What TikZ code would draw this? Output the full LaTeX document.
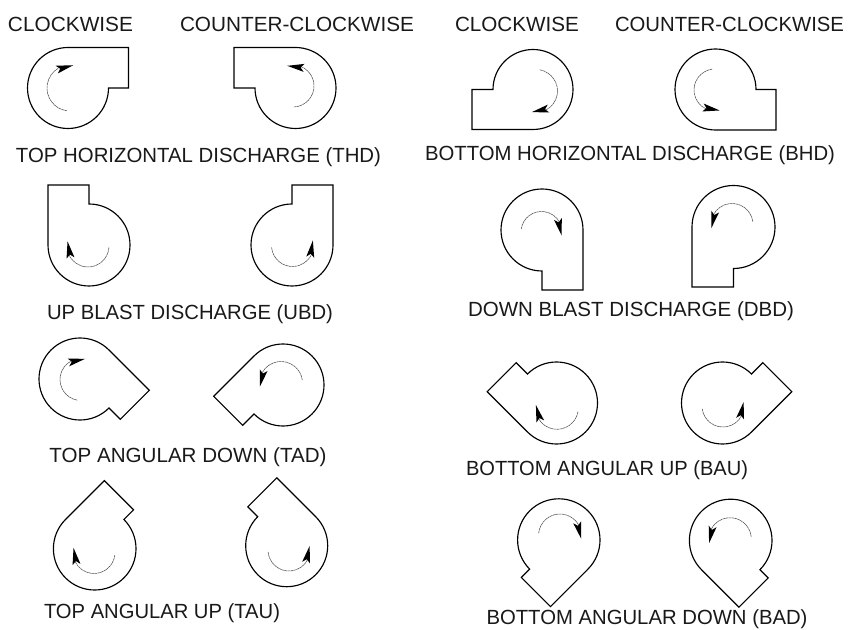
\documentclass[tikz,border=0pt]{standalone}
\usepackage{fontspec}
\setmainfont{Liberation Sans}
\tikzset{
  housing/.style={draw=black,line width=1.15pt,line join=miter},
  spin/.style={draw=black!70,line width=0.55pt,dash pattern=on 2.5pt off 0.5pt},
  spinhead/.style={fill=black,draw=none},
  caption/.style={font=\fontsize{20.5}{20.5}\selectfont,inner sep=0pt,anchor=base,text=black!90}
}
\newsavebox{\lblbox}
% centre x, centre y, radius, rotation, x-scale, outlet length
\newcommand{\fanbody}[6]{%
  \begin{scope}[shift={(#1,629-#2)},xscale=#5,rotate=#4]
    \draw[housing] (0,#3) -- (#6,#3) -- (#6,0) -- (#3,0)
      arc[start angle=0,end angle=-270,radius=#3] -- cycle;
  \end{scope}}
% centre x, centre y, radius, start angle, angle of the arrow tip
\newcommand{\fanspin}[5]{%
  \pgfmathsetmacro{\arcend}{#5+ifthenelse(#5>#4,-38,38)}%
  \pgfmathsetmacro{\headdir}{#5+ifthenelse(#5>#4,67,-67)}%
  \draw[spin] ([shift={(#4:#3)}]#1,629-#2) arc[start angle=#4,end angle=\arcend,radius=#3];
  \fill[spinhead,shift={(#1,629-#2)},shift={(#5:#3)},rotate=\headdir]
    (0,0) -- (-17,4) -- (-13.5,0) -- (-17,-4) -- cycle;}
% name, centre x, baseline y, ink width, text
\newcommand{\lbl}[5]{%
  \node[caption] (#1) at (#2,629-#3) {\savebox{\lblbox}{#5}%
    \pgfmathsetmacro{\sxfac}{#4/\the\wd\lblbox}%
    \scalebox{\sxfac}[1]{\usebox{\lblbox}}};}
\begin{document}
\begin{tikzpicture}[x=1pt,y=1pt]
\useasboundingbox (0,0) rectangle (850,629);
% column heads
\lbl{h1}{70.5}{31.5}{125}{CLOCKWISE}
\lbl{h2}{297}{31.5}{234}{COUNTER-CLOCKWISE}
\lbl{h3}{517}{31.5}{124}{CLOCKWISE}
\lbl{h4}{729.5}{31.5}{229}{COUNTER-CLOCKWISE}
% captions
\lbl{thd}{198.5}{163}{365}{TOP HORIZONTAL DISCHARGE (THD)}
\lbl{bhd}{630}{160.5}{410}{BOTTOM HORIZONTAL DISCHARGE (BHD)}
\lbl{ubd}{190}{320}{286}{UP BLAST DISCHARGE (UBD)}
\lbl{dbd}{631}{316.5}{326}{DOWN BLAST DISCHARGE (DBD)}
\lbl{tad}{188}{462}{277}{TOP ANGULAR DOWN (TAD)}
\lbl{bau}{607}{475.5}{282}{BOTTOM ANGULAR UP (BAU)}
\lbl{tau}{162}{618}{236}{TOP ANGULAR UP (TAU)}
\lbl{bad}{647}{624.5}{321}{BOTTOM ANGULAR DOWN (BAD)}
% THD
\fanbody{68}{88}{40.5}{0}{1}{60.5}
\fanspin{70}{88}{23}{262}{82}
\fanbody{295.5}{88}{40.5}{0}{-1}{61.5}
\fanspin{293}{86}{21}{-87}{106}
% BHD
\fanbody{533}{89.5}{40}{180}{1}{61}
\fanspin{536}{91}{21.5}{80}{-101}
\fanbody{715.5}{89.5}{40.5}{180}{-1}{60.5}
\fanspin{715}{90}{21}{98}{283}
% UBD
\fanbody{89}{245}{41}{90}{1}{60}
\fanspin{88}{246}{21}{-4}{-193}
\fanbody{292}{245}{41}{90}{-1}{60}
\fanspin{292.5}{245.5}{21}{185}{374}
% DBD
\fanbody{542}{230}{41}{-90}{1}{60}
\fanspin{541.5}{232}{20.5}{172}{-10}
\fanbody{733.5}{227}{41.5}{-90}{-1}{60}
\fanspin{732}{224.5}{21}{8}{190}
% TAD
\fanbody{80}{379}{41}{-45}{1}{57}
\fanspin{81}{379.5}{21}{260}{79}
\fanbody{283}{385}{41}{-45}{-1}{57}
\fanspin{281}{383}{21.5}{8}{190}
% BAU
\fanbody{556.5}{403}{41}{135}{1}{57}
\fanspin{557}{408}{21.3}{-10}{-188}
\fanbody{722.5}{403}{41}{135}{-1}{57}
\fanspin{723}{406}{21}{188}{371}
% TAU
\fanbody{94.7}{548.7}{41.3}{45}{1}{55}
\fanspin{94}{552.5}{21}{-7}{-193}
\fanbody{286.7}{545.7}{41}{45}{-1}{55}
\fanspin{289}{550}{21}{185}{371}
% BAD
\fanbody{558.8}{540}{41.2}{-135}{1}{53}
\fanspin{560}{535.5}{21.5}{174}{-9}
\fanbody{730.7}{540.5}{41.3}{-135}{-1}{53}
\fanspin{730}{539}{21.3}{6}{191}
\end{tikzpicture}
\end{document}
